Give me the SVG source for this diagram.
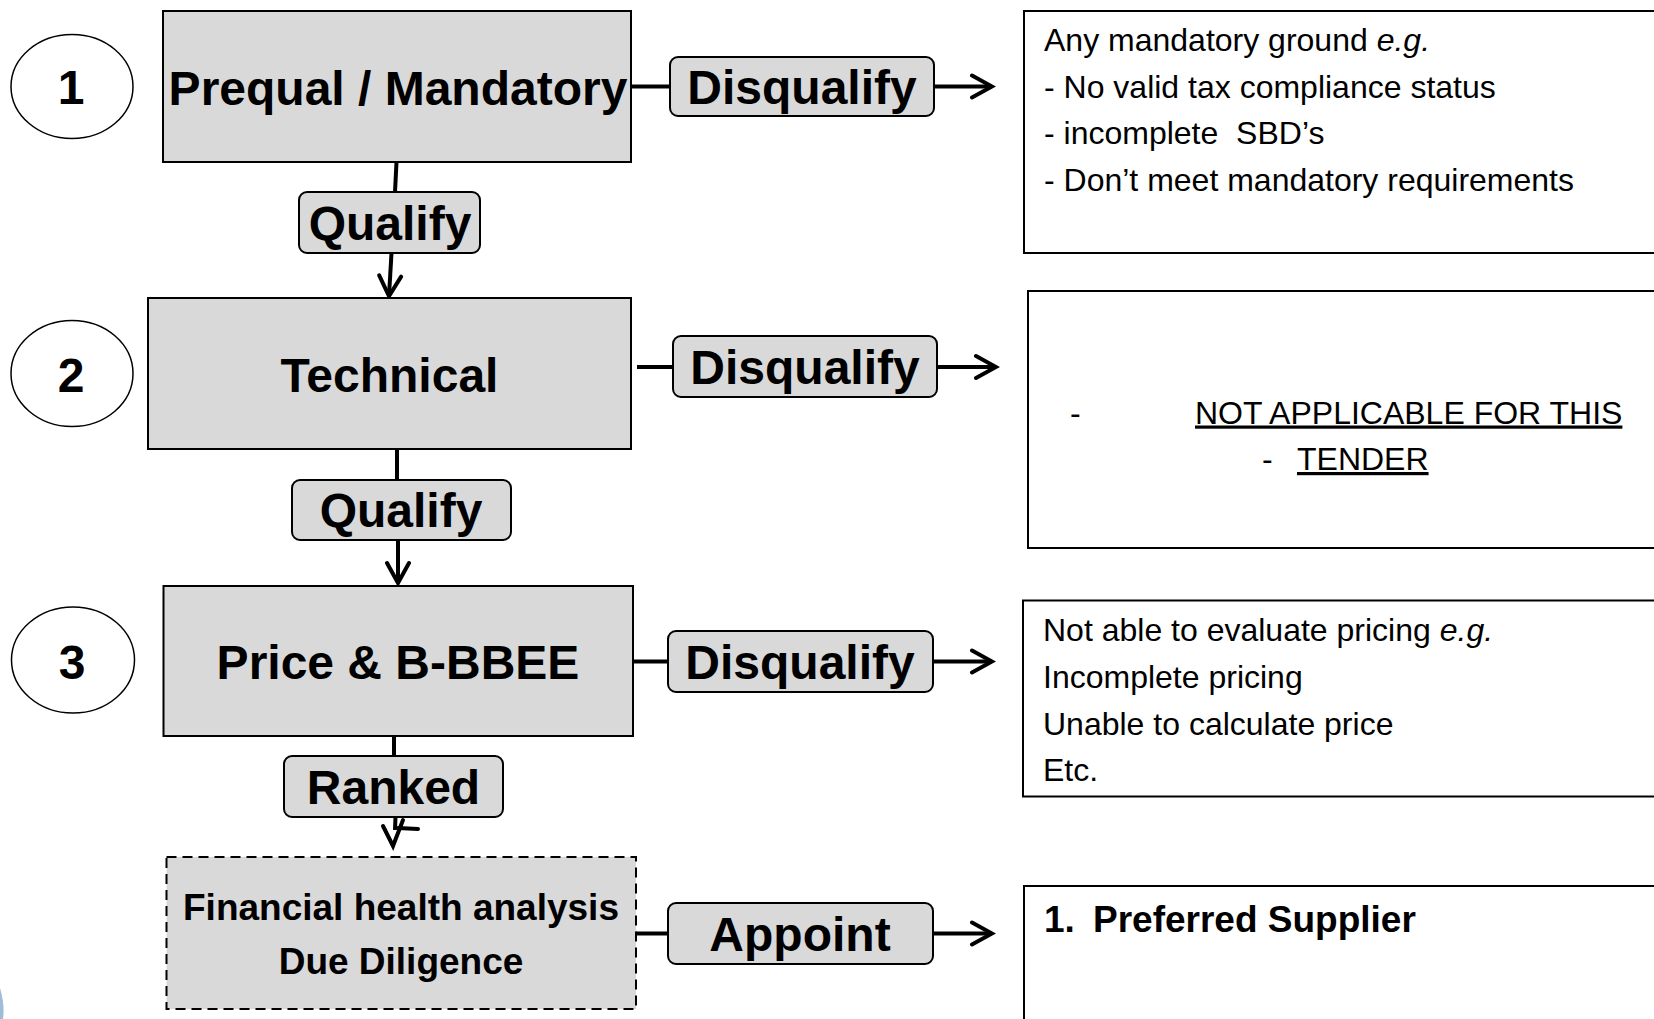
<svg xmlns="http://www.w3.org/2000/svg" width="1654" height="1019" viewBox="0 0 1654 1019">
<style>
.step{fill:#d9d9d9;stroke:#000;stroke-width:2}
.lbl{fill:#d9d9d9;stroke:#000;stroke-width:2}
.info{fill:#fff;stroke:#000;stroke-width:2}
.num{fill:#fff;stroke:#000;stroke-width:1.5}
.big{font-family:"Liberation Sans",Arial,sans-serif;font-weight:bold;font-size:48px;fill:#000;text-anchor:middle}
.fin{font-family:"Liberation Sans",Arial,sans-serif;font-weight:bold;font-size:37px;fill:#000;text-anchor:middle}
.sup{font-family:"Liberation Sans",Arial,sans-serif;font-weight:bold;font-size:37px;fill:#000;text-anchor:start}
.txt{font-family:"Liberation Sans",Arial,sans-serif;font-size:32px;fill:#000;white-space:pre}
.conn{stroke:#000;stroke-width:4;fill:none}
</style>
<defs>
<marker id="arr" markerUnits="userSpaceOnUse" viewBox="-26 -14 30 28" refX="0" refY="0" markerWidth="30" markerHeight="28" orient="auto">
<path d="M-20,-11 L0,0 L-20,11" fill="none" stroke="#000" stroke-width="4" stroke-linecap="round" stroke-linejoin="miter"/>
</marker>
</defs>
<rect x="0" y="0" width="1654" height="1019" fill="#fff"/>
<path d="M0,988 Q5,1005 3,1019 L0,1019 Z" fill="#2a6aa8" opacity="0.45"/>

<g id="connectors">
<path class="conn" d="M396.5,162 L395,192"/>
<path class="conn" d="M391.5,253 L389,296" marker-end="url(#arr)"/>
<path class="conn" d="M397,449 L397,480"/>
<path class="conn" d="M398,540 L398,583" marker-end="url(#arr)"/>
<path class="conn" d="M394,736 L394,756"/>
<path class="conn" d="M395.5,817 L395,830"/>
<path class="conn" d="M383,826 L393,846 L403,820 M398,828 L418,829" stroke-linecap="round"/>
<path class="conn" d="M631,86.5 L670,86.5"/>
<path class="conn" d="M934,86.5 L992,86.5" marker-end="url(#arr)"/>
<path class="conn" d="M637,367 L673,367"/>
<path class="conn" d="M937,367 L996,367" marker-end="url(#arr)"/>
<path class="conn" d="M633,661.5 L668,661.5"/>
<path class="conn" d="M933,661.5 L992,661.5" marker-end="url(#arr)"/>
<path class="conn" d="M636,933.5 L668,933.5"/>
<path class="conn" d="M933,933.5 L992,933.5" marker-end="url(#arr)"/>
</g>

<g id="num1"><ellipse class="num" cx="72" cy="86.5" rx="61" ry="52"/><text class="big" x="71" y="104">1</text></g>
<g id="num2"><ellipse class="num" cx="72" cy="373.5" rx="61" ry="53"/><text class="big" x="71" y="392">2</text></g>
<g id="num3"><ellipse class="num" cx="73" cy="660" rx="61.5" ry="53"/><text class="big" x="72" y="679">3</text></g>

<g id="prequal"><rect class="step" x="163" y="11" width="468" height="151"/><text class="big" x="398" y="105">Prequal / Mandatory</text></g>
<g id="technical"><rect class="step" x="148" y="298" width="483" height="151"/><text class="big" x="389.5" y="392">Technical</text></g>
<g id="price"><rect class="step" x="163.5" y="586" width="469.5" height="150"/><text class="big" x="398" y="679">Price &amp; B-BBEE</text></g>
<g id="financial"><rect class="step" x="166.5" y="857" width="469.5" height="152" stroke-dasharray="10,6" stroke="#333"/><text class="fin" x="401" y="920">Financial health analysis</text><text class="fin" x="401" y="974">Due Diligence</text></g>

<g id="qualify1"><rect class="lbl" x="299" y="192" width="181" height="61" rx="8"/><text class="big" x="390" y="240">Qualify</text></g>
<g id="qualify2"><rect class="lbl" x="292" y="480" width="219" height="60" rx="8"/><text class="big" x="401" y="527">Qualify</text></g>
<g id="ranked"><rect class="lbl" x="284" y="756" width="219" height="61" rx="8"/><text class="big" x="393.5" y="804">Ranked</text></g>
<g id="disq1"><rect class="lbl" x="670" y="57" width="264" height="59" rx="8"/><text class="big" x="802" y="104">Disqualify</text></g>
<g id="disq2"><rect class="lbl" x="673" y="336" width="264" height="61" rx="8"/><text class="big" x="805" y="384">Disqualify</text></g>
<g id="disq3"><rect class="lbl" x="668" y="631" width="265" height="61" rx="8"/><text class="big" x="800" y="679">Disqualify</text></g>
<g id="appoint"><rect class="lbl" x="668" y="903" width="265" height="61" rx="8"/><text class="big" x="800" y="951">Appoint</text></g>

<g id="info1"><rect class="info" x="1024" y="11" width="640" height="242"/>
<text class="txt" x="1044" y="51">Any mandatory ground <tspan font-style="italic">e.g.</tspan></text>
<text class="txt" x="1044" y="97.5">- No valid tax compliance status</text>
<text class="txt" x="1044" y="144" xml:space="preserve">- incomplete  SBD’s</text>
<text class="txt" x="1044" y="190.5">- Don’t meet mandatory requirements</text>
</g>
<g id="info2"><rect class="info" x="1028" y="291" width="640" height="257"/>
<text class="txt" x="1070" y="423.5">-</text>
<text class="txt" x="1195" y="423.5" text-decoration="underline">NOT APPLICABLE FOR THIS</text>
<text class="txt" x="1262" y="470">-</text>
<text class="txt" x="1297" y="470" text-decoration="underline">TENDER</text>
</g>
<g id="info3"><rect class="info" x="1023" y="600.5" width="640" height="196"/>
<text class="txt" x="1043" y="641">Not able to evaluate pricing <tspan font-style="italic">e.g.</tspan></text>
<text class="txt" x="1043" y="688">Incomplete pricing</text>
<text class="txt" x="1043" y="734.5">Unable to calculate price</text>
<text class="txt" x="1043" y="780.5">Etc.</text>
</g>
<g id="info4"><rect class="info" x="1024" y="886" width="640" height="150"/>
<text class="sup" x="1044" y="932">1.</text>
<text class="sup" x="1093" y="932">Preferred Supplier</text>
</g>
</svg>
